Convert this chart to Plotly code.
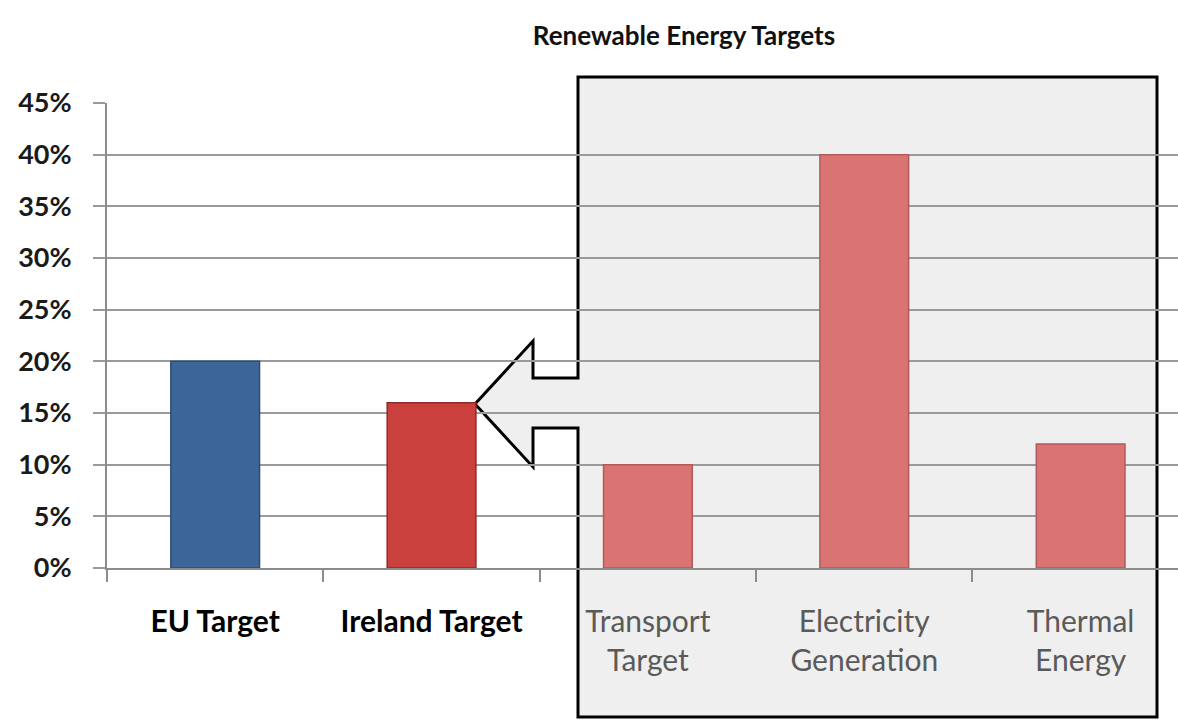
import plotly.graph_objects as go

# Renewable energy targets (share of energy from renewable sources)
categories = ["EU Target", "Ireland Target", "Transport Target", "Electricity Generation", "Thermal Energy"]
tick_labels = [
    "<b>EU Target</b>",
    "<b>Ireland Target</b>",
    "<span style='color:#5a5a5a'>Transport<br>Target</span>",
    "<span style='color:#5a5a5a'>Electricity<br>Generation</span>",
    "<span style='color:#5a5a5a'>Thermal<br>Energy</span>",
]
target_pct = [20, 16, 10, 40, 12]
bar_colors = ["#3d6698", "#c9403d", "#d97473", "#d97473", "#d97473"]
edge_colors = ["#2c4d78", "#8f2a28", "#b25a59", "#b25a59", "#b25a59"]
y_ticks = [0, 5, 10, 15, 20, 25, 30, 35, 40, 45]

W, H = 1178, 724
L, T, B = 107, 103, 156  # plot area margins (px)
plot_w = W - L
plot_h = H - T - B


def px(x):
    return (x - L) / plot_w


def py(y):
    return (H - B - y) / plot_h


fig = go.Figure()
fig.add_trace(go.Bar(
    x=categories,
    y=target_pct,
    width=0.41,
    marker=dict(color=bar_colors, line=dict(color=edge_colors, width=1.5)),
    hoverinfo="x+y",
))

# Sector breakdown panel with an arrow pointing at the Ireland target
box = dict(x0=578, x1=1157, y0=77, y1=717)
arrow = dict(tip=(475, 404), head_x=533, head_top=341, head_bot=467, shaft_top=378, shaft_bot=428)

box_fill = (
    f"M {px(box['x0'])} {py(box['y0'])} L {px(box['x1'])} {py(box['y0'])} "
    f"L {px(box['x1'])} {py(box['y1'])} L {px(box['x0'])} {py(box['y1'])} Z"
)
arrow_fill = (
    f"M {px(arrow['tip'][0])} {py(arrow['tip'][1])} "
    f"L {px(arrow['head_x'])} {py(arrow['head_top'])} "
    f"L {px(arrow['head_x'])} {py(arrow['shaft_top'])} "
    f"L {px(box['x0'] + 2)} {py(arrow['shaft_top'])} "
    f"L {px(box['x0'] + 2)} {py(arrow['shaft_bot'])} "
    f"L {px(arrow['head_x'])} {py(arrow['shaft_bot'])} "
    f"L {px(arrow['head_x'])} {py(arrow['head_bot'])} Z"
)
outline = (
    f"M {px(box['x0'])} {py(arrow['shaft_top'])} "
    f"L {px(box['x0'])} {py(box['y0'])} L {px(box['x1'])} {py(box['y0'])} "
    f"L {px(box['x1'])} {py(box['y1'])} L {px(box['x0'])} {py(box['y1'])} "
    f"L {px(box['x0'])} {py(arrow['shaft_bot'])} "
    f"L {px(arrow['head_x'])} {py(arrow['shaft_bot'])} "
    f"L {px(arrow['head_x'])} {py(arrow['head_bot'])} "
    f"L {px(arrow['tip'][0])} {py(arrow['tip'][1])} "
    f"L {px(arrow['head_x'])} {py(arrow['head_top'])} "
    f"L {px(arrow['head_x'])} {py(arrow['shaft_top'])} Z"
)

fig.add_shape(type="path", path=box_fill, xref="paper", yref="paper",
              fillcolor="#efefef", line=dict(width=0), layer="below")
fig.add_shape(type="path", path=arrow_fill, xref="paper", yref="paper",
              fillcolor="#efefef", line=dict(width=0), layer="below")
fig.add_shape(type="path", path=outline, xref="paper", yref="paper",
              fillcolor="rgba(0,0,0,0)", line=dict(color="black", width=3), layer="between")

fig.update_layout(
    width=W,
    height=H,
    margin=dict(l=L, r=0, t=T, b=B),
    paper_bgcolor="white",
    plot_bgcolor="rgba(0,0,0,0)",
    showlegend=False,
    font=dict(family="Lato", color="black"),
    title=dict(
        text="<b>Renewable Energy Targets</b>",
        font=dict(family="Lato", size=26, color="#111111"),
        x=684 / W, xanchor="center", xref="container",
        y=1 - 36 / H, yanchor="middle", yref="container",
    ),
    bargap=0.59,
)
fig.update_xaxes(
    type="category",
    range=[-0.5, 4.45],
    tickmode="array",
    tickvals=categories,
    ticktext=tick_labels,
    tickson="boundaries",
    ticks="outside",
    ticklen=12,
    tickwidth=1.5,
    tickcolor="#8c8c8c",
    showline=True,
    linecolor="#8c8c8c",
    linewidth=2,
    showgrid=False,
    tickfont=dict(family="Lato", size=30, color="black"),
    ticklabelstandoff=26,
)
fig.update_yaxes(
    range=[0, 45],
    tickmode="array",
    tickvals=y_ticks,
    ticktext=[f"<b>{v}%</b>" for v in y_ticks],
    ticks="outside",
    ticklen=12,
    tickwidth=2,
    tickcolor="#9a9a9a",
    showline=True,
    linecolor="#8c8c8c",
    linewidth=2,
    showgrid=True,
    gridcolor="#9a9a9a",
    gridwidth=2,
    zeroline=False,
    tickfont=dict(family="Lato", size=27, color="#1a1a1a"),
    ticklabelstandoff=16,
)

fig.write_html("out.html")
